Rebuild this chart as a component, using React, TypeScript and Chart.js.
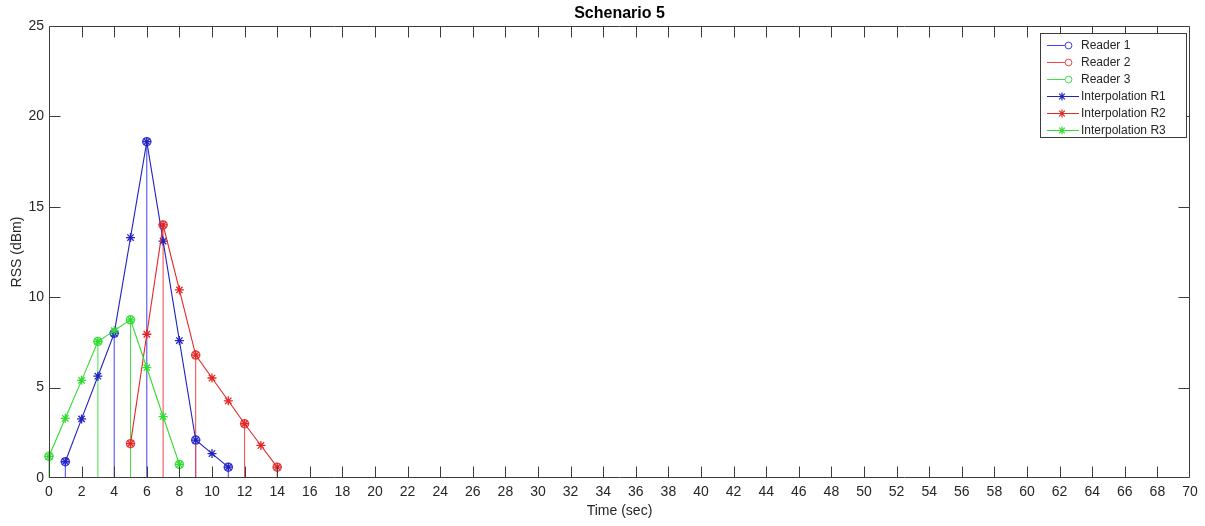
import React, { useEffect, useRef } from 'react';
import { Chart, registerables } from 'chart.js';

Chart.register(...registerables);

const FONT = '"Liberation Sans", Arial, Helvetica, sans-serif';
const AXIS_COLOR = '#3c3c3c';
const TEXT_COLOR = '#262626';

// Measured readings (time in sec, RSS in dBm)
const READER1_TIME = [1, 4, 6, 9, 11];
const READER1_RSS = [0.9, 8.0, 18.6, 2.1, 0.6];
const READER2_TIME = [5, 7, 9, 12, 14];
const READER2_RSS = [1.9, 14.0, 6.8, 3.0, 0.6];
const READER3_TIME = [0, 3, 5, 8];
const READER3_RSS = [1.2, 7.55, 8.75, 0.75];

// Interpolated series, one sample per second
const INTERP1_TIME = [1, 2, 3, 4, 5, 6, 7, 8, 9, 10, 11];
const INTERP1_RSS = [0.9, 3.27, 5.63, 8.0, 13.3, 18.6, 13.1, 7.6, 2.1, 1.35, 0.6];
const INTERP2_TIME = [5, 6, 7, 8, 9, 10, 11, 12, 13, 14];
const INTERP2_RSS = [1.9, 7.95, 14.0, 10.4, 6.8, 5.53, 4.27, 3.0, 1.8, 0.6];
const INTERP3_TIME = [0, 1, 2, 3, 4, 5, 6, 7, 8];
const INTERP3_RSS = [1.2, 3.3, 5.4, 7.55, 8.15, 8.75, 6.1, 3.4, 0.75];

const SERIES_LABELS = ['Reader 1', 'Reader 2', 'Reader 3', 'Interpolation R1', 'Interpolation R2', 'Interpolation R3'];
const SERIES_COLORS = ['#4040f0', '#f04848', '#48e048', '#2222c0', '#e42626', '#30dc30'];

const X_MIN = 0;
const X_MAX = 70;
const X_STEP = 2;
const Y_MIN = 0;
const Y_MAX = 25;
const Y_STEP = 5;

const TITLE = 'Schenario 5';
const X_TITLE = 'Time (sec)';
const Y_TITLE = 'RSS (dBm)';

const TICK_LEN = 11;

function stemPoints(t: number[], v: number[]) {
  const out: { x: number; y: number | null }[] = [];
  t.forEach((x, i) => {
    out.push({ x, y: 0 }, { x, y: v[i] }, { x, y: null });
  });
  return out;
}

function linePoints(t: number[], v: number[]) {
  return t.map((x, i) => ({ x, y: v[i] }));
}

function drawStar(ctx: CanvasRenderingContext2D, cx: number, cy: number, r: number) {
  ctx.beginPath();
  for (let k = 0; k < 4; k++) {
    const a = (k * Math.PI) / 4;
    ctx.moveTo(cx - r * Math.cos(a), cy - r * Math.sin(a));
    ctx.lineTo(cx + r * Math.cos(a), cy + r * Math.sin(a));
  }
  ctx.stroke();
}

const framePlugin = {
  id: 'frame',
  afterDatasetsDraw(chart: any) {
    const { ctx, chartArea: a, scales } = chart;
    const xs = scales.x;
    const ys = scales.y;
    const L = Math.round(a.left) + 0.5;
    const R = Math.round(a.right) - 0.5;
    const T = Math.round(a.top) + 0.5;
    const B = Math.round(a.bottom) - 0.5;
    ctx.save();
    ctx.strokeStyle = AXIS_COLOR;
    ctx.lineWidth = 1;
    ctx.beginPath();
    ctx.rect(L, T, R - L, B - T);
    for (const tk of xs.ticks) {
      if (tk.value <= X_MIN || tk.value >= X_MAX) continue;
      const px = Math.round(xs.getPixelForValue(tk.value)) + 0.5;
      ctx.moveTo(px, B);
      ctx.lineTo(px, B - TICK_LEN);
      ctx.moveTo(px, T);
      ctx.lineTo(px, T + TICK_LEN);
    }
    for (const tk of ys.ticks) {
      if (tk.value <= Y_MIN || tk.value >= Y_MAX) continue;
      const py = Math.round(ys.getPixelForValue(tk.value)) + 0.5;
      ctx.moveTo(L, py);
      ctx.lineTo(L + TICK_LEN, py);
      ctx.moveTo(R, py);
      ctx.lineTo(R - TICK_LEN, py);
    }
    ctx.stroke();
    ctx.restore();
  },
  afterDraw(chart: any) {
    const { ctx, chartArea: a } = chart;
    ctx.save();
    // title
    ctx.fillStyle = '#000';
    ctx.font = `bold 16px ${FONT}`;
    ctx.textAlign = 'center';
    ctx.textBaseline = 'middle';
    ctx.fillText(TITLE, (a.left + a.right) / 2, 14);

    // legend box
    const datasets = chart.data.datasets;
    const rowH = 17;
    const boxL = 1040.5;
    const boxT = 33.5;
    const boxW = 146;
    const boxH = 104;
    ctx.fillStyle = '#fff';
    ctx.fillRect(boxL, boxT, boxW, boxH);
    ctx.strokeStyle = AXIS_COLOR;
    ctx.lineWidth = 1;
    ctx.strokeRect(boxL, boxT, boxW, boxH);
    ctx.font = `12px ${FONT}`;
    ctx.textAlign = 'left';
    datasets.forEach((ds: any, i: number) => {
      const cy = Math.round(boxT + 11.5 + i * rowH) + 0.5;
      ctx.strokeStyle = ds.borderColor;
      ctx.lineWidth = 1;
      if (ds.pointStyle === 'circle') {
        ctx.beginPath();
        ctx.moveTo(1047, cy);
        ctx.lineTo(1065, cy);
        ctx.stroke();
        ctx.beginPath();
        ctx.arc(1068.5, cy, 3.4, 0, Math.PI * 2);
        ctx.stroke();
      } else {
        ctx.beginPath();
        ctx.moveTo(1047, cy);
        ctx.lineTo(1079, cy);
        ctx.stroke();
        ctx.lineWidth = 1.2;
        drawStar(ctx, 1062, cy, 4);
      }
      ctx.fillStyle = TEXT_COLOR;
      ctx.fillText(ds.label, 1081, cy + 0.5);
    });
    ctx.restore();
  },
};

export default function App() {
  const canvasRef = useRef<HTMLCanvasElement | null>(null);

  useEffect(() => {
    const canvas = canvasRef.current;
    if (!canvas) return;

    const stemTimes = [READER1_TIME, READER2_TIME, READER3_TIME];
    const stemValues = [READER1_RSS, READER2_RSS, READER3_RSS];
    const interpTimes = [INTERP1_TIME, INTERP2_TIME, INTERP3_TIME];
    const interpValues = [INTERP1_RSS, INTERP2_RSS, INTERP3_RSS];

    const datasets: any[] = [];
    for (let i = 0; i < 3; i++) {
      datasets.push({
        label: SERIES_LABELS[i],
        data: stemPoints(stemTimes[i], stemValues[i]),
        borderColor: SERIES_COLORS[i],
        backgroundColor: 'rgba(0,0,0,0)',
        borderWidth: 1,
        pointStyle: 'circle',
        pointRadius: (c: any) => (c.dataIndex % 3 === 1 ? 4 : 0),
        pointBorderWidth: 1.5,
        pointBorderColor: SERIES_COLORS[i],
        pointBackgroundColor: 'rgba(0,0,0,0)',
        spanGaps: false,
        tension: 0,
        clip: false,
        order: 10 - i,
      });
    }
    for (let i = 0; i < 3; i++) {
      datasets.push({
        label: SERIES_LABELS[i + 3],
        data: linePoints(interpTimes[i], interpValues[i]),
        borderColor: SERIES_COLORS[i + 3],
        backgroundColor: 'rgba(0,0,0,0)',
        borderWidth: 1.1,
        pointStyle: 'star',
        pointRadius: 4.5,
        pointBorderWidth: 1.3,
        pointBorderColor: SERIES_COLORS[i + 3],
        pointBackgroundColor: 'rgba(0,0,0,0)',
        tension: 0,
        clip: false,
        order: 5 - i,
      });
    }

    const chart = new Chart(canvas, {
      type: 'line',
      data: { datasets },
      options: {
        responsive: false,
        animation: false,
        events: [],
        layout: { padding: { top: 26, right: 15, left: 0, bottom: 0 } },
        plugins: {
          legend: { display: false },
          tooltip: { enabled: false },
          title: { display: false },
        },
        scales: {
          x: {
            type: 'linear',
            min: X_MIN,
            max: X_MAX,
            grid: { display: false, drawTicks: false },
            border: { display: false },
            ticks: {
              stepSize: X_STEP,
              autoSkip: false,
              maxRotation: 0,
              padding: 6,
              color: TEXT_COLOR,
              font: { family: FONT, size: 14 },
            },
            title: {
              display: true,
              text: X_TITLE,
              color: TEXT_COLOR,
              font: { family: FONT, size: 14 },
              padding: { top: 0, bottom: 6 },
            },
            afterFit: (s: any) => {
              s.height = 48;
            },
          },
          y: {
            type: 'linear',
            min: Y_MIN,
            max: Y_MAX,
            grid: { display: false, drawTicks: false },
            border: { display: false },
            ticks: {
              stepSize: Y_STEP,
              padding: 5,
              color: TEXT_COLOR,
              font: { family: FONT, size: 14 },
            },
            title: {
              display: true,
              text: Y_TITLE,
              color: TEXT_COLOR,
              font: { family: FONT, size: 14 },
              padding: { top: 9, bottom: 0 },
            },
            afterFit: (s: any) => {
              s.width = 49;
            },
          },
        },
      },
      plugins: [framePlugin],
    });

    return () => chart.destroy();
  }, []);

  return (
    <div style={{ position: 'fixed', left: 0, top: 0, width: 1205, height: 526, background: '#fff' }}>
      <canvas ref={canvasRef} width={1205} height={526} />
    </div>
  );
}
